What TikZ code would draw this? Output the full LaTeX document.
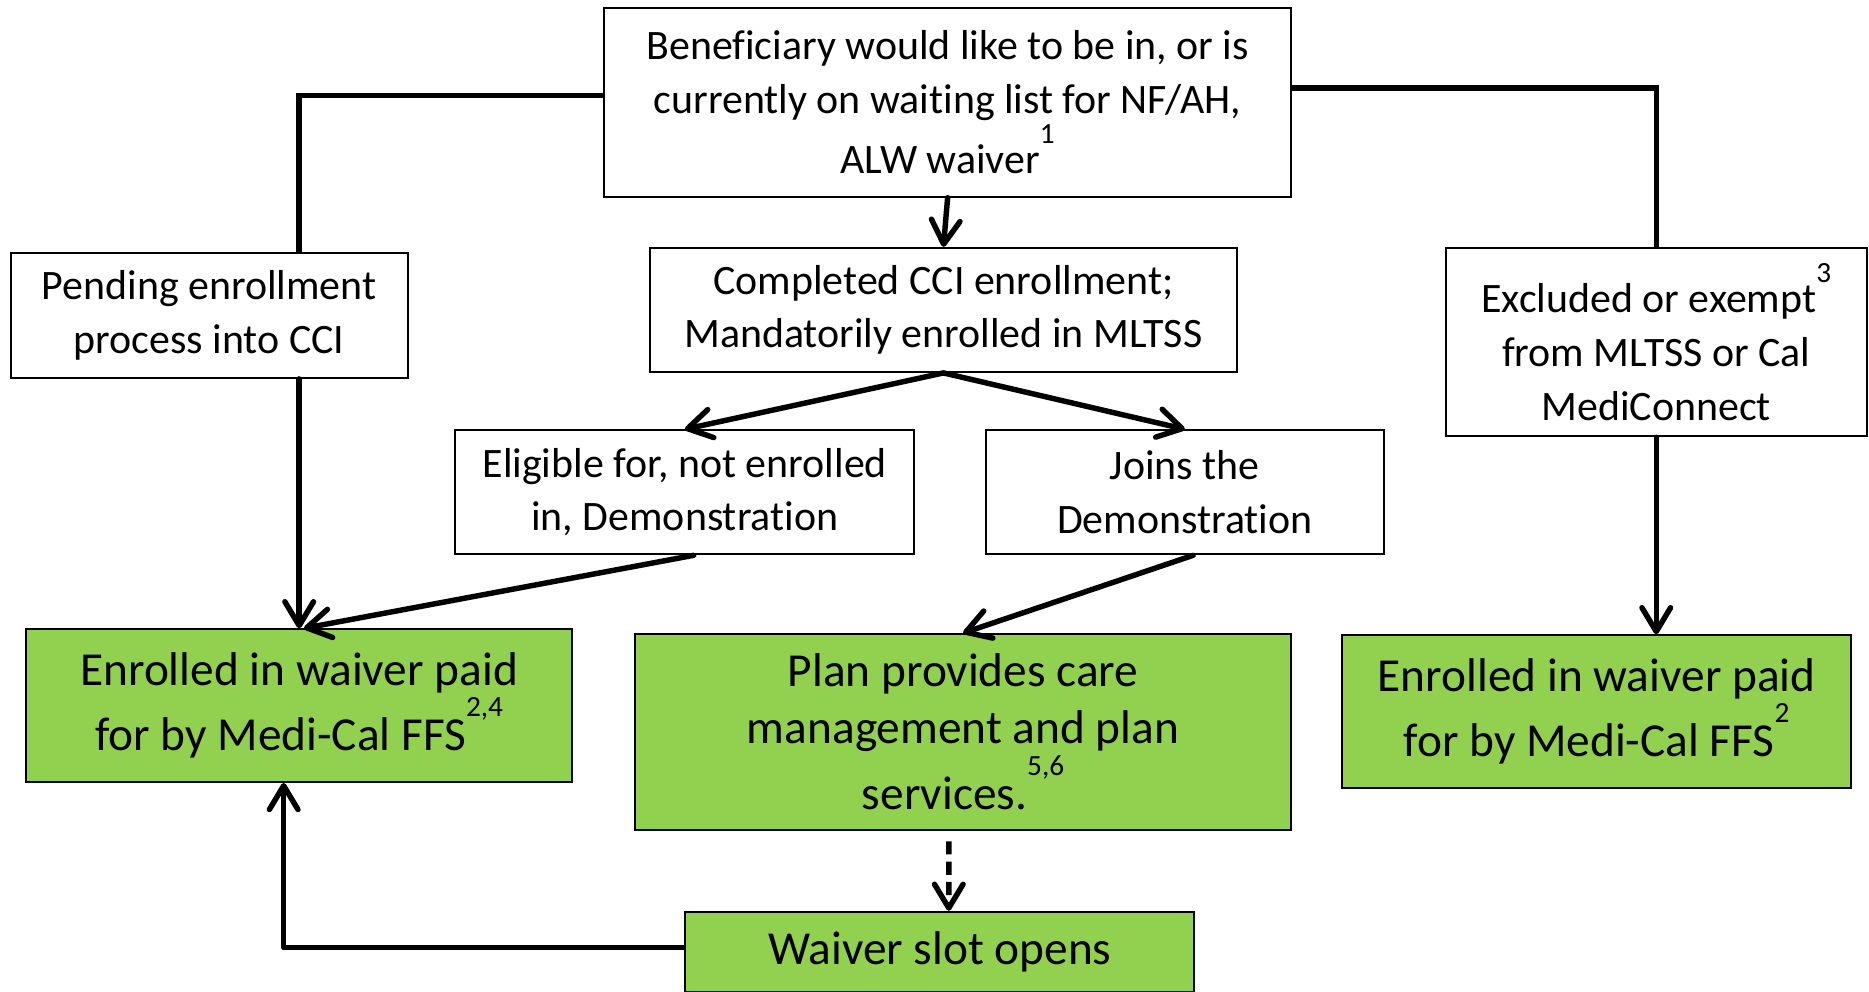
\documentclass[tikz,border=0pt]{standalone}
\usepackage{fontspec}
\setmainfont{Carlito}[RawFeature={-liga;-clig;-dlig;-calt}]
\usetikzlibrary{arrows.meta}
\definecolor{waivergreen}{HTML}{92D050}
\newcommand{\fnote}[1]{\raisebox{1.5ex}{\fontsize{7}{7}\selectfont #1}}
\tikzset{
    box/.style={draw, line width=0.5pt, align=center, inner sep=0pt,
        font=\fontsize{10}{12.8}\selectfont},
    greenbox/.style={box, fill=waivergreen, font=\fontsize{11.3}{13.6}\selectfont},
    flow/.style={line width=1.3pt, line cap=round, line join=round,
        -{Straight Barb[length=2mm,width=2.4mm,round]}},
    link/.style={line width=1.3pt, line join=miter},
}
\begin{document}
\begin{tikzpicture}
        \useasboundingbox (0,0) rectangle (15.68,-8.32);

        % Boxes
        \node[box, minimum width=5.76cm, minimum height=1.58cm] (want) at (7.95,-0.86)
            {Beneficiary would like to be in, or is\\currently on waiting list for NF/AH,\\ALW waiver\fnote{1}};
        \node[box, minimum width=3.33cm, minimum height=1.05cm] (pend) at (1.755,-2.645)
            {Pending enrollment\\process into CCI};
        \node[box, minimum width=4.93cm, minimum height=1.04cm] (done) at (7.915,-2.60)
            {Completed CCI enrollment;\\Mandatorily enrolled in MLTSS};
        \node[box, minimum width=3.53cm, minimum height=1.58cm] (excl) at (13.895,-2.87)
            {Excluded or exempt\fnote{3}\\from MLTSS or Cal\\MediConnect};
        \node[box, minimum width=3.85cm, minimum height=1.04cm] (elig) at (5.745,-4.13)
            {Eligible for, not enrolled\\in, Demonstration};
        \node[box, minimum width=3.34cm, minimum height=1.04cm] (join) at (9.94,-4.13)
            {Joins the\\Demonstration};
        \node[greenbox, minimum width=4.58cm, minimum height=1.28cm] (ffsL) at (2.51,-5.92)
            {Enrolled in waiver paid\\for by Medi-Cal FFS\fnote{2,4}};
        \node[greenbox, minimum width=5.50cm, minimum height=1.64cm] (plan) at (8.08,-6.14)
            {Plan provides care\\management and plan\\services.\fnote{5,6}};
        \node[greenbox, minimum width=4.27cm, minimum height=1.28cm] (ffsR) at (13.395,-5.97)
            {Enrolled in waiver paid\\for by Medi-Cal FFS\fnote{2}};
        \node[greenbox, minimum width=4.27cm, minimum height=0.67cm] (slot) at (7.885,-7.985)
            {Waiver slot opens};

        % Lines
        \draw[link] ([yshift=0.6mm]want.west) -| (ffsL.north |- pend.north);
        \draw[link] ([yshift=1.2mm]want.east) -| (excl.north);

        % Arrows
        \draw[flow] (want.south) -- (done.north);
        \draw[flow] (pend.south -| ffsL.north) -- (ffsL.north);
        \draw[flow] (done.south) -- (elig.north);
        \draw[flow] (done.south) -- (join.north);
        \draw[flow] ([xshift=0.75mm]elig.south) -- ([xshift=0.4mm]ffsL.north);
        \draw[flow] ([xshift=0.7mm]join.south) -- (plan.north);
        \draw[flow] (excl.south) -- (excl.south |- ffsR.north);
        \draw[flow, dash pattern=on 1.1mm off 0.6mm, line cap=butt]
            ([xshift=-1.2mm,yshift=-0.9mm]plan.south) -- ([xshift=0.75mm]slot.north);
        \draw[flow, line cap=butt] ([yshift=0.35mm]slot.west) -| ([xshift=-1.3mm]ffsL.south);
    \end{tikzpicture}
\end{document}
